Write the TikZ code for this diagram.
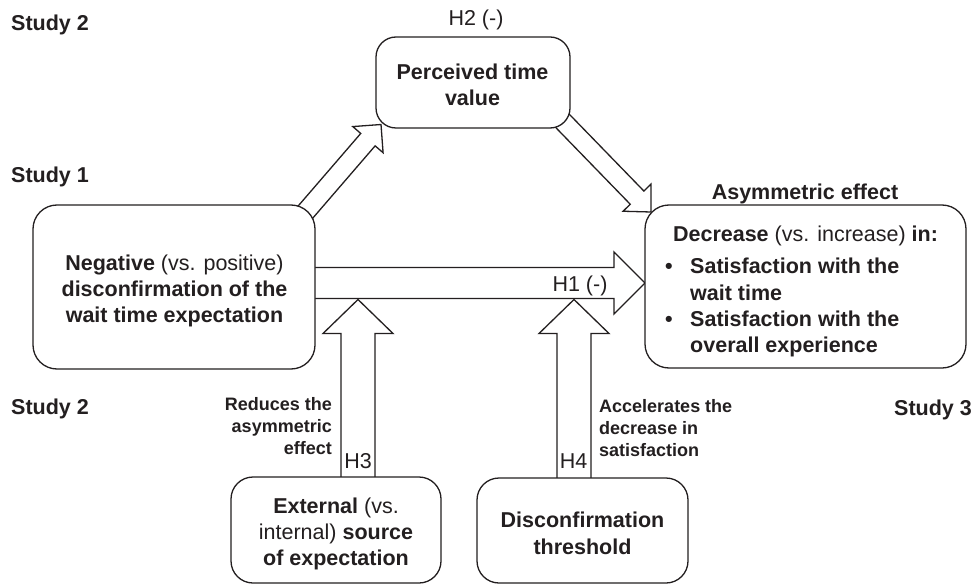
\documentclass[tikz,border=0pt]{standalone}
\usepackage{fontspec}
\setmainfont{Liberation Sans}
\usetikzlibrary{calc}
\definecolor{ink}{HTML}{231F20}
\newcommand{\blockarrow}[6]{%
  \coordinate (#1b) at ($(#3)!#6!(#2)$);
  \draw[arr] ($(#2)!#4!90:(#3)$) -- ($(#1b)!#4!90:(#3)$) -- ($(#1b)!#5!90:(#3)$) -- (#3)
    -- ($(#1b)!#5!-90:(#3)$) -- ($(#1b)!#4!-90:(#3)$) -- ($(#2)!#4!-90:(#3)$) -- cycle;
}
\tikzset{
  boxpos/.style={inner sep=0pt, outer sep=0pt},
  box/.style={draw=ink, line width=1.3pt, rounded corners=24pt, fill=white},
  arr/.style={draw=ink, line width=1.3pt, fill=white, line join=miter},
  txt/.style={font=\fontsize{21.5}{26.5}\selectfont, text=ink, inner sep=0pt, anchor=base},
  txtl/.style={txt, anchor=base west},
  annr/.style={font=\bfseries\fontsize{18}{22}\selectfont, text=ink, inner sep=0pt, anchor=base east},
  annl/.style={annr, anchor=base west},
}
\begin{document}
\begin{tikzpicture}[x=1pt,y=-1pt]
\useasboundingbox[fill=white] (0,0) rectangle (973,585);

% box nodes (positions)
\node[boxpos, minimum width=282pt, minimum height=164pt] (neg) at (174,287) {};
\node[boxpos, minimum width=194pt, minimum height=91pt] (perc) at (473,82.5) {};
\node[boxpos, minimum width=321pt, minimum height=163pt] (dec) at (805.5,286.5) {};
\node[boxpos, minimum width=210pt, minimum height=106pt] (ext) at (336,530) {};
\node[boxpos, minimum width=211pt, minimum height=105pt] (thr) at (582.5,530.5) {};

% arrow end points
\coordinate (h1tail) at ($(neg.east)+(-25,-4)$);
\coordinate (h1tip) at ($(dec.west)+(0,-3.5)$);
\coordinate (h3tail) at ($(ext.north)+(22,25)$);
\coordinate (h3tip) at (358,299.5);
\coordinate (h4tail) at ($(thr.north)+(-8.5,25)$);
\coordinate (h4tip) at (574,299.5);
\coordinate (d1tail) at ($(neg.north east)+(-25,25)$);
\coordinate (d1tip) at (381,124.5);
\coordinate (d2tail) at ($(perc.south east)+(-20,-20)$);
\coordinate (d2tip) at (651,212);

% block arrows
\blockarrow{h1}{h1tail}{h1tip}{15.5pt}{31pt}{31pt}
\blockarrow{h3}{h3tail}{h3tip}{17pt}{35pt}{34pt}
\blockarrow{h4}{h4tail}{h4tip}{17pt}{35pt}{34pt}
\blockarrow{d1}{d1tail}{d1tip}{9.5pt}{20pt}{20pt}
\blockarrow{d2}{d2tail}{d2tip}{9.5pt}{19.5pt}{20pt}

% boxes drawn on top
\draw[box] (neg.south west) rectangle (neg.north east);
\draw[box, rounded corners=20pt] (perc.south west) rectangle (perc.north east);
\draw[box] (dec.south west) rectangle (dec.north east);
\draw[box, rounded corners=22pt] (ext.south west) rectangle (ext.north east);
\draw[box, rounded corners=22pt] (thr.south west) rectangle (thr.north east);

% study labels
\node[txtl] (s2a) at (11,31) {\bfseries Study 2};
\node[txtl] (s1) at (11,182.5) {\bfseries Study 1};
\node[txtl] (s2b) at (11,414) {\bfseries Study 2};
\node[txtl] (s3) at (894,415) {\bfseries Study 3};

% hypothesis labels
\node[txt] (h2lab) at (476,26) {H2 (-)};
\node[txt] (h1lab) at (580,291) {H1 (-)};
\node[txt] (h3lab) at (358,468) {H3};
\node[txt] (h4lab) at (573.5,468) {H4};

% perceived time value
\node[txt] (pt1) at (472.5,79.5) {\bfseries Perceived time};
\node[txt] (pt2) at (472.5,105.7) {\bfseries value};

% negative disconfirmation
\node[txt] (ng1) at (174.5,270) {\textbf{Negative} (vs. positive)};
\node[txt] (ng2) at (174.5,296.5) {\bfseries disconfirmation of the};
\node[txt] (ng3) at (174.5,322.5) {\bfseries wait time expectation};

% asymmetric effect
\node[txt] (asy) at (805,200) {\bfseries Asymmetric effect};
\node[txt] (dc1) at (805.5,241) {\textbf{Decrease} (vs. increase) \textbf{in:}};
\node[txt] (bu1) at (669,273.3) {\bfseries •};
\node[txtl] (it1a) at (690,273.3) {\bfseries Satisfaction with the};
\node[txtl] (it1b) at (690,300) {\bfseries wait time};
\node[txt] (bu2) at (669,326) {\bfseries •};
\node[txtl] (it2a) at (690,326) {\bfseries Satisfaction with the};
\node[txtl] (it2b) at (690,352.3) {\bfseries overall experience};

% external source
\node[txt] (ex1) at (336,513.5) {\textbf{External} (vs.};
\node[txt] (ex2) at (336,539.5) {internal) \textbf{source}};
\node[txt] (ex3) at (336,565.5) {\bfseries of expectation};

% threshold
\node[txt] (th1) at (582.5,527.7) {\bfseries Disconfirmation};
\node[txt] (th2) at (582.5,554) {\bfseries threshold};

% annotations
\node[annr] (rd1) at (332,410) {Reduces the};
\node[annr] (rd2) at (332,432) {asymmetric};
\node[annr] (rd3) at (332,454) {effect};
\node[annl] (ac1) at (599,412) {Accelerates the};
\node[annl] (ac2) at (599,434) {decrease in};
\node[annl] (ac3) at (599,456) {satisfaction};
\end{tikzpicture}
\end{document}
